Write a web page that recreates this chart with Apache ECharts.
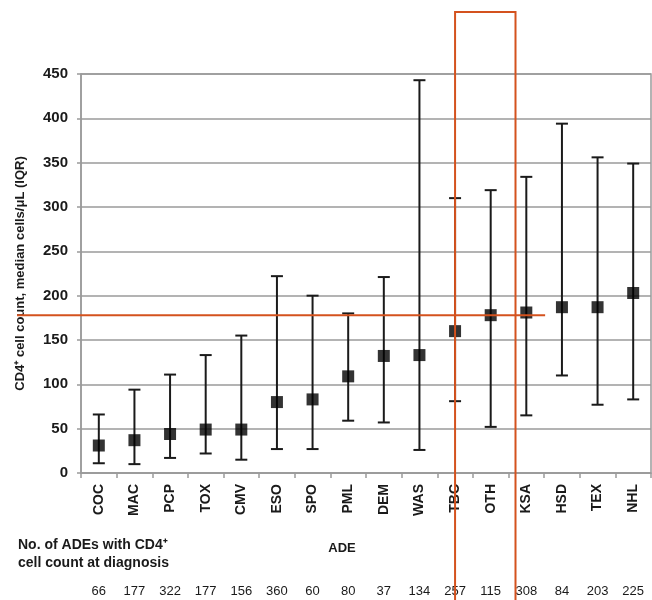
<!DOCTYPE html>
<html>
<head>
<meta charset="utf-8">
<script src="https://cdn.jsdelivr.net/npm/echarts@6/dist/echarts.min.js"></script>
<style>html,body{margin:0;padding:0;background:#fff;}#c{width:652px;height:600px;}</style>
</head>
<body>
<div id="c"></div>
<script>
const categories = ['COC','MAC','PCP','TOX','CMV','ESO','SPO','PML','DEM','WAS','TBC','OTH','KSA','HSD','TEX','NHL'];
const medians = [31, 37, 44, 49, 49, 80, 83, 109, 132, 133, 160, 178, 181, 187, 187, 203];
const q1 = [11, 10, 17, 22, 15, 27, 27, 59, 57, 26, 81, 52, 65, 110, 77, 83];
const q3 = [66, 94, 111, 133, 155, 222, 200, 180, 221, 443, 310, 319, 334, 394, 356, 349];
const counts = [66, 177, 322, 177, 156, 360, 60, 80, 37, 134, 257, 115, 308, 84, 203, 225];
const yTicks = {min: 0, max: 450, interval: 50};
const refValue = 178;

const FONT = '"Liberation Sans", Arial, sans-serif';
const TXT = '#1a1a1a';
const GRID = '#9a9a9a';
const RED = '#d4521e';

const chart = echarts.init(document.getElementById('c'), null, {renderer: 'canvas'});

const errData = categories.map((c, i) => [i, q1[i], q3[i]]);

const baseGraphic = {
  type: 'group',
  children: [
    {type: 'text', left: 18, top: 538, style: {text: 'No. of ADEs with CD4\u207A', fontFamily: FONT, fontWeight: 'bold', fontSize: 14, fill: TXT}},
    {type: 'text', left: 18, top: 556, style: {text: 'cell count at diagnosis', fontFamily: FONT, fontWeight: 'bold', fontSize: 14, fill: TXT}},
    {type: 'text', x: 342, y: 548, style: {text: 'ADE', fontFamily: FONT, fontWeight: 'bold', fontSize: 13, fill: TXT, align: 'center', verticalAlign: 'middle'}}
  ]
};

const option = {
  backgroundColor: '#fff',
  animation: false,
  grid: {left: 81, right: 1, top: 74, bottom: 127, show: true, borderColor: GRID, borderWidth: 1.5},
  xAxis: [{
    type: 'category',
    data: categories,
    boundaryGap: true,
    axisLine: {lineStyle: {color: GRID, width: 1.5}},
    axisTick: {show: true, length: 5, lineStyle: {color: GRID, width: 1.5}},
    axisLabel: {rotate: 90, margin: 11, fontFamily: FONT, fontWeight: 'bold', fontSize: 14, color: TXT}
  }, {
    type: 'category',
    data: categories,
    position: 'bottom',
    offset: 104,
    axisLine: {show: false},
    axisTick: {show: false},
    axisLabel: {
      fontFamily: FONT, fontSize: 13, color: TXT,
      formatter: (v, i) => String(counts[i])
    }
  }],
  yAxis: {
    type: 'value',
    min: yTicks.min, max: yTicks.max, interval: yTicks.interval,
    axisLine: {show: true, lineStyle: {color: GRID, width: 1.5}},
    axisTick: {show: true, length: 4, lineStyle: {color: GRID, width: 1.5}},
    splitLine: {lineStyle: {color: GRID, width: 1.5}},
    axisLabel: {fontFamily: FONT, fontWeight: 'bold', fontSize: 15, color: TXT, margin: 13},
    name: 'CD4\u207A cell count, median cells/\u03BCL (IQR)',
    nameLocation: 'middle',
    nameGap: 54,
    nameTextStyle: {fontFamily: FONT, fontWeight: 'bold', fontSize: 13, color: TXT}
  },
  series: [{
    type: 'custom',
    data: errData,
    z: 3,
    renderItem: function (params, api) {
      const x = api.coord([api.value(0), api.value(1)])[0];
      const lo = api.coord([api.value(0), api.value(1)])[1];
      const hi = api.coord([api.value(0), api.value(2)])[1];
      const cw = 6;
      const st = {stroke: '#1a1a1a', lineWidth: 2};
      return {
        type: 'group',
        children: [
          {type: 'line', shape: {x1: x, y1: lo, x2: x, y2: hi}, style: st},
          {type: 'line', shape: {x1: x - cw, y1: hi, x2: x + cw, y2: hi}, style: st},
          {type: 'line', shape: {x1: x - cw, y1: lo, x2: x + cw, y2: lo}, style: st}
        ]
      };
    }
  }, {
    type: 'scatter',
    data: medians,
    symbol: 'rect',
    symbolSize: 12,
    z: 4,
    itemStyle: {color: '#000'}
  }],
  graphic: [baseGraphic]
};
chart.setOption(option);

// red annotation overlay
const yRef = chart.convertToPixel({yAxisIndex: 0}, refValue);
const xTBC = chart.convertToPixel({xAxisIndex: 0}, 'TBC');
const xOTH = chart.convertToPixel({xAxisIndex: 0}, 'OTH');
const xKSA = chart.convertToPixel({xAxisIndex: 0}, 'KSA');
const xHSD = chart.convertToPixel({xAxisIndex: 0}, 'HSD');
const rectRight = (xOTH + xKSA) / 2 + 7;
chart.setOption({
  graphic: [baseGraphic, {
    type: 'rect', z: 100,
    shape: {x: xTBC, y: 12, width: rectRight - xTBC, height: 620},
    style: {fill: 'none', stroke: RED, lineWidth: 2}
  }, {
    type: 'line', z: 100,
    shape: {x1: 17, y1: yRef, x2: (xKSA + xHSD) / 2 + 1, y2: yRef},
    style: {stroke: RED, lineWidth: 2}
  }]
});
</script>
</body>
</html>
